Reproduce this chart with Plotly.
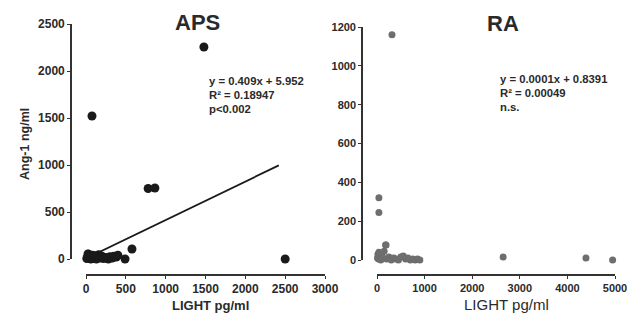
import plotly.graph_objects as go

# page has a default 8px body margin; keep the figure inside the 644x323 window
OFF = 8
W, H = 644 - 2 * OFF, 323 - 2 * OFF

# ---- data ----
aps_light = [10, 20, 25, 30, 40, 50, 60, 70, 80, 90, 100, 110, 120, 130, 150, 160, 180, 200,
             220, 250, 280, 300, 330, 350, 380, 400, 490, 577, 780, 865, 75, 1480, 2500]
aps_ang = [5, 20, 53, 50, 10, 30, 0, 15, 40, 5, 25, 10, 35, 0, 20, 45, 10, 30,
           5, 15, 0, 25, 10, 30, 20, 40, 0, 106, 750, 755, 1521, 2255, 0]
aps_slope, aps_intercept = 0.409, 5.952
aps_fit_x = [50, 2420]

ra_light = [10, 20, 30, 40, 50, 60, 80, 100, 120, 150, 180, 200, 250, 300, 350, 400, 450, 500,
            550, 600, 650, 700, 750, 800, 850, 900, 40, 40, 190, 315, 2650, 4390, 4950]
ra_ang = [10, 30, 5, 40, 15, 20, 0, 25, 10, 45, 77, 5, 15, 0, 10, 5, 0, 15,
          20, 5, 10, 0, 5, 0, 5, 0, 320, 245, 77, 1160, 15, 10, 0]

aps_xticks = [0, 500, 1000, 1500, 2000, 2500, 3000]
aps_yticks = [0, 500, 1000, 1500, 2000, 2500]
ra_xticks = [0, 1000, 2000, 3000, 4000, 5000]
ra_yticks = [0, 200, 400, 600, 800, 1000, 1200]

aps_text = ["y = 0.409x + 5.952", "R² = 0.18947", "p<0.002"]
ra_text = ["y = 0.0001x + 0.8391", "R² = 0.00049", "n.s."]


def px(x):
    return (x - OFF) / W


def py(y):
    return 1 - (y - OFF) / H


FONT = "Liberation Sans, Arial, sans-serif"
fig = go.Figure()

fig.add_trace(go.Scatter(x=aps_light, y=aps_ang, mode="markers", xaxis="x", yaxis="y",
                         marker=dict(color="#1a1a1a", size=9), cliponaxis=False, showlegend=False))
fig.add_trace(go.Scatter(x=aps_fit_x, y=[aps_slope * v + aps_intercept for v in aps_fit_x],
                         mode="lines", xaxis="x", yaxis="y", line=dict(color="#1a1a1a", width=1.8),
                         showlegend=False))
fig.add_trace(go.Scatter(x=ra_light, y=ra_ang, mode="markers", xaxis="x2", yaxis="y2",
                         marker=dict(color="#6e6e6e", size=7), cliponaxis=False, showlegend=False))

axcommon = dict(showgrid=False, zeroline=False, showline=True, linecolor="#333", linewidth=1.6,
                ticks="outside", ticklen=3, tickcolor="#333", tickwidth=1.2)

fig.update_layout(
    width=W, height=H, margin=dict(l=0, r=0, t=0, b=0, autoexpand=False),
    paper_bgcolor="white", plot_bgcolor="white",
    font=dict(family=FONT, color="#2a2a2a"),
    xaxis=dict(domain=[px(86), px(325)], range=[0, 3000], anchor="free", position=py(275),
               tickvals=aps_xticks, tickfont=dict(size=12, weight="bold"), **axcommon),
    yaxis=dict(domain=[py(259), py(24)], range=[0, 2500], anchor="free", position=px(71),
               tickvals=aps_yticks, tickfont=dict(size=12, weight="bold"), **axcommon),
    xaxis2=dict(domain=[px(377), px(615)], range=[0, 5000], anchor="free", position=py(275),
                tickvals=ra_xticks, tickfont=dict(size=11, weight="bold"), **axcommon),
    yaxis2=dict(domain=[py(260), py(27)], range=[0, 1200], anchor="free", position=px(362),
                tickvals=ra_yticks, tickfont=dict(size=11, weight="bold"), **axcommon),
)

ann = []
ann.append(dict(text="<b>APS</b>", x=px(197), y=py(22), font=dict(size=22)))
ann.append(dict(text="<b>RA</b>", x=px(503), y=py(23), font=dict(size=22)))
ann.append(dict(text="<b>LIGHT pg/ml</b>", x=px(210), y=py(315), yanchor="bottom",
                font=dict(size=13)))
ann.append(dict(text="LIGHT pg/ml", x=px(506), y=py(315), yanchor="bottom", font=dict(size=15)))
ann.append(dict(text="<b>Ang-1 ng/ml</b>", x=px(25), y=py(144), textangle=-90,
                font=dict(size=12.5)))
for i, t in enumerate(aps_text):
    ann.append(dict(text="<b>%s</b>" % t, x=px(207), y=py(81 + 14 * i), xanchor="left",
                    font=dict(size=11.3)))
for i, t in enumerate(ra_text):
    ann.append(dict(text="<b>%s</b>" % t, x=px(498), y=py(79 + 14 * i), xanchor="left",
                    font=dict(size=11.3)))
for a in ann:
    a.update(xref="paper", yref="paper", showarrow=False)
    a.setdefault("xanchor", "center")
    a.setdefault("yanchor", "middle")
fig.update_layout(annotations=ann)

fig.write_html("out.html")
